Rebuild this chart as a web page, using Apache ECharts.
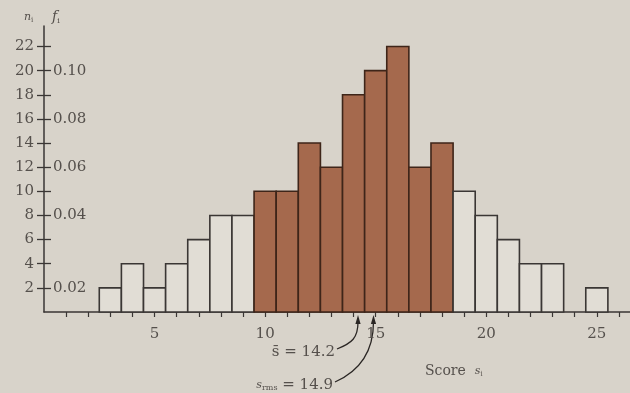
<!DOCTYPE html>
<html><head><meta charset="utf-8">
<script src="https://cdn.jsdelivr.net/npm/echarts@6/dist/echarts.min.js"></script>
<style>html,body{margin:0;padding:0;background:#d8d3ca}#c{width:630px;height:393px}</style>
</head><body><div id="c"></div>
<script>
// ---- data ----
const scores = [3,4,5,6,7,8,9,10,11,12,13,14,15,16,17,18,19,20,21,22,23,24,25];
const counts = [2,4,2,4,6,8,8,10,10,14,12,18,20,22,12,14,10,8,6,4,4,0,2];
const shadedFrom = 10, shadedTo = 18;
const nTicks = [2,4,6,8,10,12,14,16,18,20,22];
const fTickAt = [2,8,12,16,20];
const fTickLabels = ['0.02','0.04','0.06','0.08','0.10'];
const xTicks = [1,2,3,4,5,6,7,8,9,10,11,12,13,14,15,16,17,18,19,20,21,22,23,24,25,26];
const xLabels = [5,10,15,20,25];
const meanScore = 14.2, rmsScore = 14.9;

const FONT = 'DejaVu Serif';
const INK = '#3a3634';
const TXT = '#55504c';

const chart = echarts.init(document.getElementById('c'), null, {renderer: 'canvas'});
const fMap = {};
fTickAt.forEach((v, i) => fMap[v] = fTickLabels[i]);

chart.setOption({
  backgroundColor: '#d8d3ca',
  animation: false,
  grid: {left: 44, right: 0, top: 26, bottom: 81},
  xAxis: {
    type: 'value', min: 0, max: 26.5,
    axisLine: {show: true, lineStyle: {color: INK, width: 1.5}},
    axisTick: {show: true, length: 5, customValues: xTicks, lineStyle: {color: INK, width: 1.2}},
    axisLabel: {customValues: xLabels, margin: 15, fontFamily: FONT, fontSize: 15, color: TXT},
    splitLine: {show: false}
  },
  yAxis: [{
    type: 'value', min: 0, max: 23.7, position: 'left',
    axisLine: {show: true, onZero: false, lineStyle: {color: INK, width: 1.5}},
    axisTick: {show: true, length: 7, customValues: nTicks, lineStyle: {color: INK, width: 1.3}},
    axisLabel: {customValues: nTicks, margin: 10, fontFamily: FONT, fontSize: 15, color: TXT},
    splitLine: {show: false}
  }, {
    type: 'value', min: 0, max: 23.7, position: 'left',
    axisLine: {show: false},
    axisTick: {show: true, inside: true, length: 7, customValues: nTicks, lineStyle: {color: INK, width: 1.3}},
    axisLabel: {inside: true, customValues: fTickAt, margin: 9, fontFamily: FONT, fontSize: 15, color: TXT,
      formatter: v => fMap[v] || ''},
    splitLine: {show: false}
  }],
  series: [{
    type: 'custom',
    data: scores.map((s, i) => [s, counts[i]]),
    encode: {x: 0, y: 1},
    renderItem: function (params, api) {
      const s = api.value(0), n = api.value(1);
      if (!n) return null;
      const p0 = api.coord([s - 0.5, n]);
      const p1 = api.coord([s + 0.5, 0]);
      const shaded = s >= shadedFrom && s <= shadedTo;
      return {
        type: 'rect',
        shape: {x: p0[0], y: p0[1], width: p1[0] - p0[0], height: p1[1] - p0[1]},
        style: {fill: shaded ? '#a5694d' : '#e1ddd5', stroke: shaded ? '#3e2519' : INK, lineWidth: 1.6}
      };
    }
  }]
});

// annotations with arrows to mean and rms positions
const pm = chart.convertToPixel({gridIndex: 0}, [meanScore, 0]);
const pr = chart.convertToPixel({gridIndex: 0}, [rmsScore, 0]);
const tipY = pm[1] + 3;
function head(x) {
  return {type: 'polygon', shape: {points: [[x, tipY], [x - 2.6, tipY + 9], [x + 2.6, tipY + 9]]}, style: {fill: '#2a2624'}};
}
chart.setOption({
  graphic: [
    {type: 'text', left: 24, top: 12, style: {text: '{i|n}{s|i}', rich: {i: {fontFamily: FONT, fontStyle: 'italic', fontSize: 11, fill: TXT}, s: {fontFamily: FONT, fontSize: 7, fill: TXT, verticalAlign: 'bottom', padding: [6, 0, 0, 0]}}}},
    {type: 'text', left: 52, top: 10, style: {text: '{i|f}{s|i}', rich: {i: {fontFamily: FONT, fontStyle: 'italic', fontSize: 14, fill: TXT}, s: {fontFamily: FONT, fontSize: 8, fill: TXT, padding: [8, 0, 0, 0]}}}},
    {type: 'text', x: 335, y: 352, style: {text: 's\u0304 = 14.2', align: 'right', verticalAlign: 'middle', fontFamily: FONT, fontSize: 15, fill: TXT}},
    {type: 'text', x: 333, y: 385, style: {text: '{a|s}{b|rms}{c| = 14.9}', align: 'right', verticalAlign: 'middle',
      rich: {a: {fontFamily: FONT, fontStyle: 'italic', fontSize: 11, fill: TXT}, b: {fontFamily: FONT, fontSize: 8, fill: TXT, padding: [6, 0, 0, 0]}, c: {fontFamily: FONT, fontSize: 15, fill: TXT}}}},
    {type: 'text', x: 425, y: 371, style: {text: '{a|Score  }{b|s}{c|i}', verticalAlign: 'middle',
      rich: {a: {fontFamily: FONT, fontSize: 14, fill: TXT}, b: {fontFamily: FONT, fontStyle: 'italic', fontSize: 11, fill: TXT}, c: {fontFamily: FONT, fontSize: 7, fill: TXT, padding: [6, 0, 0, 0]}}}},
    {type: 'bezierCurve', shape: {x1: 337, y1: 349, cpx1: 352, cpy1: 343, cpx2: pm[0], cpy2: 338, x2: pm[0], y2: tipY + 7}, style: {stroke: '#2a2624', lineWidth: 1.3, fill: null}},
    {type: 'bezierCurve', shape: {x1: 335, y1: 382, cpx1: 362, cpy1: 370, cpx2: pr[0], cpy2: 350, x2: pr[0], y2: tipY + 7}, style: {stroke: '#2a2624', lineWidth: 1.3, fill: null}},
    head(pm[0]), head(pr[0])
  ]
});
</script>
</body></html>
